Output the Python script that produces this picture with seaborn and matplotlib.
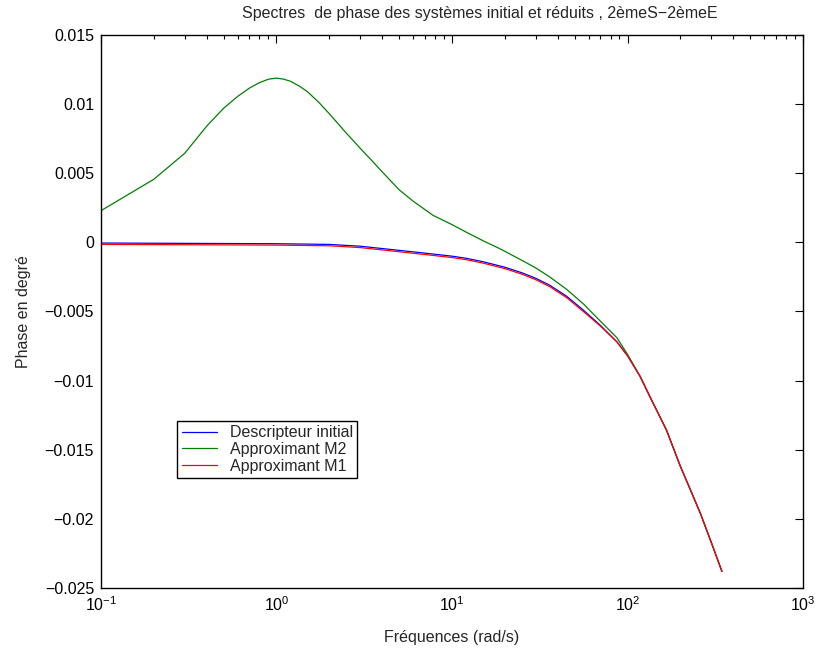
import matplotlib
matplotlib.use("Agg")
import matplotlib.pyplot as plt
import matplotlib.ticker as mticker
import seaborn as sns
import pandas as pd

# Data
freq_m2 = [0.1, 0.2, 0.3, 0.4, 0.5, 0.6, 0.7, 0.8, 0.9, 1.0, 1.1, 1.2, 1.35, 1.5, 1.75, 2.0,
           2.5, 3.0, 3.5, 4.0, 5.0, 6.0, 7.8, 10, 12, 15, 19, 25, 30, 36, 45, 56, 70, 87,
           100, 118, 137, 150, 167, 200, 230, 260, 300, 345]
phase_m2 = [0.00229, 0.00456, 0.00644, 0.0084, 0.0097, 0.01055, 0.01115, 0.01155, 0.0118,
            0.01188, 0.0118, 0.01165, 0.0113, 0.0109, 0.0101, 0.0093, 0.0079, 0.0068,
            0.0059, 0.0051, 0.0038, 0.00298, 0.00195, 0.00128, 0.00075, 0.00012,
            -0.0005, -0.0013, -0.00185, -0.0025, -0.0034, -0.00445, -0.0057, -0.0069,
            -0.0081, -0.0097, -0.0114, -0.0124, -0.0136, -0.0162, -0.0180, -0.0196,
            -0.0217, -0.0238]

freq_ref = [0.1, 1.0, 2.0, 3.0, 5.0, 7.0, 10, 12, 15, 20, 25, 30, 36, 45, 56, 70, 87, 100,
            118, 137, 150, 167, 200, 230, 260, 300, 345]
phase_init = [-0.00005, -0.0001, -0.00015, -0.00028, -0.00058, -0.00078, -0.0010, -0.00115,
              -0.0014, -0.0018, -0.0022, -0.0026, -0.0031, -0.0039, -0.0049, -0.0060,
              -0.0072, -0.0082, -0.0097, -0.0114, -0.0124, -0.0136, -0.0162, -0.0180,
              -0.0196, -0.0217, -0.0238]
phase_m1 = [-0.00015, -0.0002, -0.00025, -0.00038, -0.00068, -0.00088, -0.0011, -0.00125,
            -0.0015, -0.0019, -0.0023, -0.0027, -0.0032, -0.0040, -0.0050, -0.00605,
            -0.0072, -0.0082, -0.0097, -0.0114, -0.0124, -0.0136, -0.0162, -0.0180,
            -0.0196, -0.0217, -0.0238]

labels = ["Descripteur initial", "Approximant M2", "Approximant M1"]
colors = ["#0000ff", "#008000", "#ff0000"]
yticks = [0.015, 0.01, 0.005, 0, -0.005, -0.01, -0.015, -0.02, -0.025]

sns.set_style("white")
plt.rcParams["font.family"] = ["Liberation Sans", "DejaVu Sans"]
plt.rcParams["mathtext.fontset"] = "custom"
plt.rcParams["mathtext.rm"] = "Liberation Sans"

FS = 11.5
fig = plt.figure(figsize=(8.17, 6.52), dpi=100)
ax = fig.add_axes([0.1236, 0.0982, 0.8593, 0.8482])

series = [(freq_ref, phase_init), (freq_m2, phase_m2), (freq_ref, phase_m1)]
for (f, p), lab, col in zip(series, labels, colors):
    df = pd.DataFrame({"f": f, "p": p})
    sns.lineplot(data=df, x="f", y="p", ax=ax, color=col, linewidth=0.9, label=lab)

ax.set_xscale("log")
ax.set_xlim(0.1, 1000)
ax.set_ylim(-0.025, 0.015)
ax.set_yticks(yticks)
ax.yaxis.set_major_formatter(mticker.FuncFormatter(lambda v, _: ("%g" % v).replace("-", "\u2212")))
ax.xaxis.set_minor_locator(mticker.LogLocator(base=10, subs=range(2, 10), numticks=20))
ax.xaxis.set_minor_formatter(mticker.NullFormatter())

ax.tick_params(axis="both", which="both", direction="in", top=True, right=True,
               labelsize=FS, colors="black")
ax.tick_params(which="major", length=6, width=0.8, pad=5)
ax.tick_params(which="minor", length=3, width=0.8)
for s in ax.spines.values():
    s.set_color("black")
    s.set_linewidth(1.0)

ax.set_title("Spectres  de phase des systèmes initial et réduits , 2èmeS\u22122èmeE", fontsize=FS,
             pad=12, x=0.54)
ax.set_xlabel("Fréquences (rad/s)", fontsize=FS, labelpad=12)
ax.set_ylabel("Phase en degré", fontsize=FS, labelpad=10)

leg = ax.legend(loc="lower left", bbox_to_anchor=(0.108, 0.198), fontsize=FS, frameon=True,
                fancybox=False, framealpha=1, edgecolor="black", borderpad=0.3,
                handlelength=2.2, labelspacing=0.1, borderaxespad=0)
leg.get_frame().set_linewidth(1.0)

fig.savefig("out.png", dpi=100)
